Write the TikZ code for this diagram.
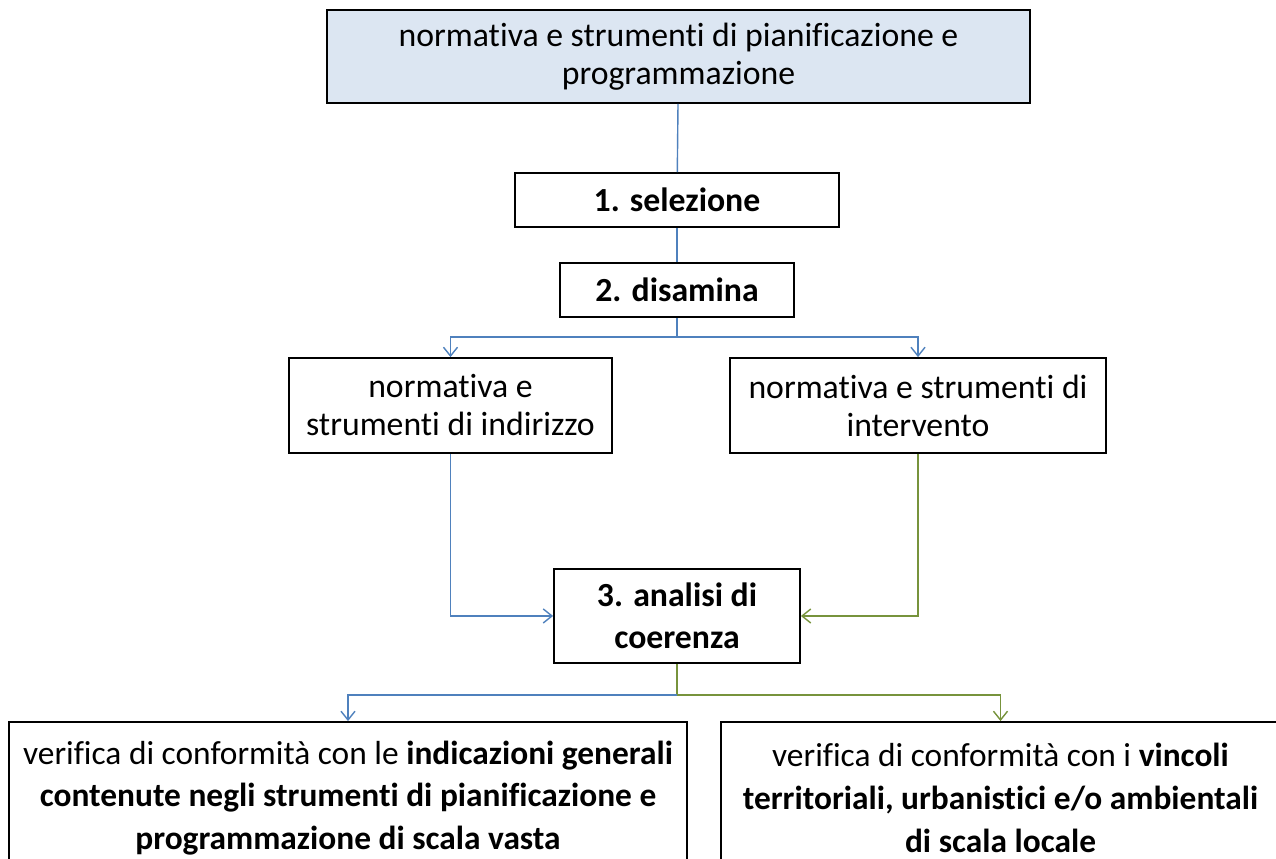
\documentclass[tikz,border=0pt]{standalone}
\usepackage{fontspec}
\setmainfont{Carlito}[Ligatures=NoCommon]
\usetikzlibrary{arrows.meta}
\definecolor{lineblue}{rgb}{0.310, 0.506, 0.741}
\definecolor{linegreen}{rgb}{0.467, 0.576, 0.235}
\definecolor{headfill}{rgb}{0.863, 0.902, 0.949}

\tikzset{
  box/.style={draw=black,line width=1pt,fill=white,align=center,inner sep=2pt,
    font=\fontsize{19.2}{21.6}\selectfont},
  stepbox/.style={box,font=\fontsize{19.2}{24}\selectfont\bfseries},
  resbox/.style={box,font=\fontsize{19}{24.4}\selectfont},
  bluelink/.style={lineblue,line width=0.8pt},
  greenlink/.style={linegreen,line width=0.8pt},
  barb/.style={-{Straight Barb[length=5pt,width=8pt]}}
}

\begin{document}
\begin{tikzpicture}

\useasboundingbox (0,0) rectangle (25.52,17.18);

% head box
\node [box,fill=headfill,minimum width=14.06cm,minimum height=1.86cm] (head) at (13.57,16.05)
  {normativa e strumenti di pianificazione e\\programmazione};

% steps
\node [stepbox,minimum width=6.48cm,minimum height=1.08cm] (sel) at (13.54,13.18) {1. selezione};
\node [stepbox,minimum width=4.68cm,minimum height=1.08cm] (dis) at (13.54,11.38) {2. disamina};
\coordinate (split1) at (13.54,10.44);

% the two kinds of tools
\node [box,minimum width=6.46cm,minimum height=1.90cm] (indir) at (9.01,9.07)
  {normativa e\\strumenti di indirizzo};
\node [box,minimum width=7.52cm,minimum height=1.90cm] (interv) at (18.36,9.07)
  {normativa e strumenti di\\intervento};

% third step
\node [stepbox,minimum width=4.92cm,minimum height=1.88cm] (anal) at (13.54,4.86)
  {3. analisi di\\coerenza};
\coordinate (split2) at (13.54,3.28);

% results (cut by the page edge)
\node [resbox,minimum width=13.56cm,minimum height=3.04cm] (vasta) at (6.96,1.22)
  {verifica di conformità con le \textbf{indicazioni generali}\\
   \textbf{contenute negli strumenti di pianificazione e}\\
   \textbf{programmazione di scala vasta}};
\node [resbox,minimum width=11.18cm,minimum height=3.04cm] (locale) at (20.01,1.22)
  {verifica di conformità con i \textbf{vincoli}\\
   \textbf{territoriali, urbanistici e/o ambientali}\\
   \textbf{di scala locale}};

% connectors
\draw [bluelink] (head) -- (sel);
\draw [bluelink] (sel) -- (dis);
\draw [bluelink] (dis) -- (split1);
\draw [bluelink,barb] (split1) -| (indir);
\draw [bluelink,barb] (split1) -| (interv);
\draw [bluelink,barb] (indir) |- (anal);
\draw [greenlink,barb] (interv) |- (anal);
\draw [greenlink] (anal) -- (split2);
\draw [bluelink,barb] (split2) -| (vasta);
\draw [greenlink,barb] (split2) -| (locale);

\end{tikzpicture}
\end{document}
